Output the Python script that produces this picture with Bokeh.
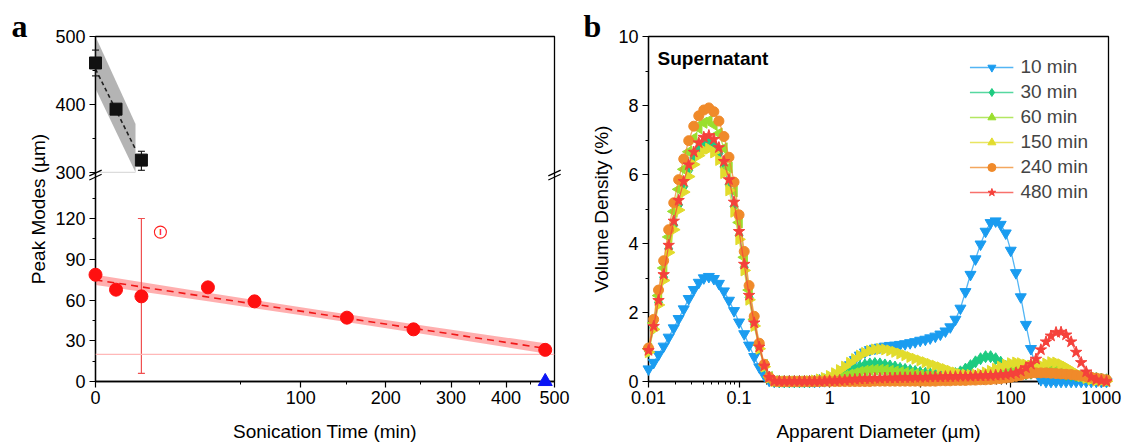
import math
from bokeh.plotting import figure
from bokeh.layouts import row
from bokeh.models import (Range1d, FixedTicker, CustomJSTickFormatter, Label, Span,
                          Legend, LegendItem)
from bokeh.core.properties import value
from bokeh.embed import file_html
from bokeh.resources import INLINE

SANS = "Liberation Sans"
SERIF = "Liberation Serif"

# ---------------- panel a data ----------------
time_red = [0, 1, 5, 30, 60, 150, 240, 480]
mode_red = [78.6, 67.6, 62.7, 69.3, 59.0, 47.0, 38.4, 23.3]
red_err_t = [5]
red_err_lo = [6]
red_err_hi = [120]
outlier_t = [10]
outlier_y = [110]
time_black = [0, 1, 5]
mode_black = [461, 393, 318]
black_err_lo = [442, 386, 303]
black_err_hi = [480, 400, 331]
blue_t = [480]
blue_y = [0]
red_fit_t = [0, 480]
red_fit_y = [74.8, 24.4]
red_band_t = [0, 30, 120, 270, 480]
red_band_lo = [71.0, 59.0, 46.8, 33.9, 20.6]
red_band_hi = [78.6, 65.4, 52.4, 40.1, 28.2]
black_fit_t = [0, 3.8]
black_fit_y = [452, 334]
black_band_lo = [423, 300]
black_band_hi = [500, 371]
threshold_low = [20]
threshold_up = [300]
a_x_ticks = [0, 100, 200, 300, 400, 500]
a_x_minor = [50, 150, 250, 350, 450]

# ---------------- panel b data ----------------
diam = [0.0100, 0.0114, 0.0129, 0.0147, 0.0167, 0.0190, 0.0215, 0.0245, 0.0278, 0.0316, 0.0359, 0.0408, 0.0464, 0.0527, 0.0599, 0.0681, 0.0774, 0.0880,
        0.100, 0.114, 0.129, 0.147, 0.167, 0.190, 0.215, 0.245, 0.278, 0.316, 0.359, 0.408, 0.464, 0.527, 0.599, 0.681, 0.774, 0.880,
        1.00, 1.14, 1.29, 1.47, 1.67, 1.90, 2.15, 2.45, 2.78, 3.16, 3.59, 4.08, 4.64, 5.27, 5.99, 6.81, 7.74, 8.80,
        10.0, 11.4, 12.9, 14.7, 16.7, 19.0, 21.5, 24.5, 27.8, 31.6, 35.9, 40.8, 46.4, 52.7, 59.9, 68.1, 77.4, 88.0,
        100, 114, 129, 147, 167, 190, 215, 245, 278, 316, 359, 408, 464, 527, 599, 681, 774, 880,
        1000, 1140]

blue_10 = [0.36, 0.55, 0.78, 1.02, 1.28, 1.55, 1.82, 2.10, 2.40, 2.66, 2.87, 3.00, 3.04, 2.98, 2.84, 2.62, 2.35, 2.05,
           1.72, 1.38, 1.05, 0.72, 0.42, 0.18, 0.03, 0, 0, 0, 0, 0, 0, 0, 0, 0, 0.01, 0.02,
           0.05, 0.10, 0.20, 0.33, 0.48, 0.63, 0.76, 0.85, 0.92, 0.96, 0.99, 1.02, 1.04, 1.05, 1.07, 1.09, 1.12, 1.15,
           1.19, 1.22, 1.26, 1.31, 1.37, 1.46, 1.58, 1.80, 2.12, 2.60, 3.10, 3.55, 3.98, 4.35, 4.60, 4.65, 4.55, 4.30,
           3.80, 3.15, 2.45, 1.65, 0.95, 0.35, 0.05, 0, 0, 0, 0, 0, 0, 0, 0, 0, 0, 0,
           0, 0]
teal_30 = [0.88, 1.56, 2.29, 3.02, 3.85, 4.53, 5.12, 5.65, 6.12, 6.48, 6.75, 6.90, 6.95, 6.84, 6.61, 6.22, 5.70, 5.07,
           4.24, 3.31, 2.44, 1.66, 0.98, 0.44, 0.12, 0.01, 0, 0, 0, 0, 0, 0, 0, 0.01, 0.03, 0.05,
           0.08, 0.12, 0.17, 0.23, 0.30, 0.37, 0.43, 0.48, 0.51, 0.52, 0.51, 0.48, 0.45, 0.42, 0.38, 0.35, 0.32, 0.29,
           0.26, 0.24, 0.22, 0.20, 0.19, 0.19, 0.20, 0.23, 0.28, 0.36, 0.46, 0.57, 0.66, 0.72, 0.72, 0.66, 0.56, 0.44,
           0.33, 0.26, 0.22, 0.22, 0.24, 0.28, 0.32, 0.35, 0.34, 0.30, 0.24, 0.20, 0.18, 0.16, 0.15, 0.13, 0.11, 0.09,
           0.07, 0.05]
lime_60 = [0.95, 1.70, 2.49, 3.29, 4.19, 4.93, 5.57, 6.15, 6.66, 7.05, 7.34, 7.50, 7.56, 7.44, 7.19, 6.76, 6.20, 5.51,
           4.61, 3.60, 2.65, 1.80, 1.06, 0.48, 0.13, 0.01, 0, 0, 0, 0, 0, 0, 0, 0.01, 0.02, 0.04,
           0.06, 0.09, 0.12, 0.16, 0.20, 0.24, 0.28, 0.31, 0.33, 0.34, 0.34, 0.33, 0.31, 0.29, 0.27, 0.25, 0.23, 0.21,
           0.19, 0.17, 0.15, 0.13, 0.12, 0.11, 0.10, 0.10, 0.11, 0.12, 0.14, 0.16, 0.18, 0.20, 0.22, 0.25, 0.28, 0.32,
           0.36, 0.40, 0.44, 0.46, 0.46, 0.44, 0.40, 0.36, 0.33, 0.32, 0.30, 0.26, 0.21, 0.16, 0.12, 0.08, 0.05, 0.03,
           0.02, 0.01]
yellow_150 = [0.85, 1.51, 2.22, 2.93, 3.74, 4.40, 4.97, 5.49, 5.94, 6.29, 6.55, 6.70, 6.75, 6.64, 6.42, 6.04, 5.54, 4.92,
              4.12, 3.22, 2.37, 1.61, 0.95, 0.43, 0.11, 0.01, 0, 0, 0, 0, 0, 0, 0.01, 0.03, 0.06, 0.10,
              0.16, 0.24, 0.33, 0.43, 0.54, 0.65, 0.75, 0.83, 0.89, 0.93, 0.94, 0.93, 0.90, 0.86, 0.81, 0.76, 0.71, 0.66,
              0.61, 0.56, 0.51, 0.46, 0.41, 0.36, 0.31, 0.26, 0.22, 0.20, 0.19, 0.20, 0.22, 0.26, 0.31, 0.37, 0.43, 0.49,
              0.53, 0.55, 0.53, 0.49, 0.45, 0.44, 0.47, 0.52, 0.56, 0.55, 0.50, 0.42, 0.33, 0.24, 0.16, 0.10, 0.06, 0.03,
              0.02, 0.01]
orange_240 = [0.97, 1.80, 2.65, 3.50, 4.40, 5.18, 5.85, 6.45, 6.98, 7.40, 7.70, 7.87, 7.93, 7.82, 7.55, 7.10, 6.50, 5.78,
              4.83, 3.77, 2.78, 1.89, 1.11, 0.50, 0.13, 0.01, 0, 0, 0, 0, 0, 0, 0, 0, 0, 0,
              0, 0, 0, 0, 0, 0, 0, 0, 0, 0.01, 0.01, 0.01, 0.01, 0.01, 0.01, 0.01, 0.01, 0.01,
              0.01, 0.01, 0.01, 0.01, 0.02, 0.02, 0.02, 0.03, 0.03, 0.03, 0.04, 0.04, 0.05, 0.05, 0.06, 0.07, 0.08, 0.10,
              0.12, 0.15, 0.18, 0.22, 0.24, 0.25, 0.25, 0.25, 0.24, 0.23, 0.22, 0.21, 0.20, 0.18, 0.16, 0.14, 0.12, 0.10,
              0.08, 0.05]
red_480 = [0.90, 1.60, 2.35, 3.10, 3.95, 4.65, 5.25, 5.80, 6.28, 6.65, 6.92, 7.08, 7.13, 7.02, 6.78, 6.38, 5.85, 5.20,
           4.35, 3.40, 2.50, 1.70, 1.00, 0.45, 0.12, 0.01, 0, 0, 0, 0, 0, 0, 0, 0, 0, 0.01,
           0.02, 0.02, 0.03, 0.04, 0.05, 0.06, 0.07, 0.08, 0.08, 0.09, 0.09, 0.10, 0.10, 0.10, 0.11, 0.11, 0.11, 0.12,
           0.12, 0.12, 0.13, 0.13, 0.13, 0.14, 0.14, 0.14, 0.15, 0.15, 0.15, 0.16, 0.16, 0.17, 0.17, 0.18, 0.19, 0.20,
           0.22, 0.25, 0.30, 0.40, 0.50, 0.65, 0.92, 1.15, 1.32, 1.42, 1.43, 1.35, 1.15, 0.85, 0.55, 0.28, 0.12, 0.05,
           0.02, 0.00]

series_labels = ["10 min", "30 min", "60 min", "150 min", "240 min", "480 min"]
series_values = [blue_10, teal_30, lime_60, yellow_150, orange_240, red_480]
series_colors = ["#1A9CF0", "#1DCB80", "#9ADF2E", "#E2DC2C", "#F08A2A", "#F5413B"]
series_markers = ["inverted_triangle", "diamond", "triangle", "triangle", "circle", "star"]
series_angles = [0, 0, math.pi / 2, -math.pi / 2, 0, 0]
series_sizes = [11, 12, 11, 11, 10, 12]

for s in series_values:
    assert len(s) == len(diam), len(s)


def style_axis(ax, tick_size="18px", title_size="19px"):
    ax.axis_line_color = "black"
    ax.axis_line_width = 1.3
    ax.major_tick_line_color = "black"
    ax.minor_tick_line_color = "black"
    ax.major_tick_line_width = 1.2
    ax.minor_tick_line_width = 1.0
    ax.major_tick_out = 6
    ax.major_tick_in = 0
    ax.minor_tick_out = 3
    ax.minor_tick_in = 0
    ax.major_label_text_font = SANS
    ax.major_label_text_font_size = tick_size
    ax.major_label_text_color = "black"
    ax.axis_label_text_font = SANS
    ax.axis_label_text_font_size = title_size
    ax.axis_label_text_font_style = "normal"
    ax.axis_label_text_color = "black"


def style_title(p, text, offset):
    p.title.text = text
    p.title.align = "left"
    p.title.offset = offset
    p.title.standoff = -14
    p.title.vertical_align = "bottom"
    p.title.text_font = SERIF
    p.title.text_font_style = "bold"
    p.title.text_font_size = "32px"
    p.title.text_color = "black"


# composite (broken) y coordinate for panel a
GAP_BASE = 154.0
UP_SCALE = 0.5


def up(v):
    return GAP_BASE + (v - 300) * UP_SCALE


def sq(t):
    return math.sqrt(t)


# ---------------- panel a ----------------
pa = figure(width=576, height=446, output_backend="svg", toolbar_location=None,
            x_range=Range1d(0, sq(500)), y_range=Range1d(0, up(500)),
            min_border_left=95, min_border_right=22, min_border_top=36, min_border_bottom=65)
pa.grid.visible = False
pa.outline_line_color = "black"
pa.outline_line_width = 1.3
style_title(pa, "a", -84)

pa.xaxis.ticker = FixedTicker(ticks=[sq(v) for v in a_x_ticks], minor_ticks=[sq(v) for v in a_x_minor])
pa.xaxis.formatter = CustomJSTickFormatter(code="return String(Math.round(tick*tick));")
pa.yaxis.ticker = FixedTicker(ticks=[0, 30, 60, 90, 120, up(300), up(400), up(500)],
                              minor_ticks=[15, 45, 75, 105, 135, up(350), up(450)])
pa.yaxis.formatter = CustomJSTickFormatter(
    code="return tick <= 150 ? String(Math.round(tick)) : String(Math.round(300 + (tick-154)*2));")
pa.xaxis.axis_label = "Sonication Time (min)"
pa.yaxis.axis_label = "Peak Modes (\u00b5m)"
style_axis(pa.xaxis[0])
style_axis(pa.yaxis[0])
pa.xaxis.axis_label_standoff = 14
pa.xaxis.major_label_standoff = 3
pa.yaxis.axis_label_standoff = 3
pa.yaxis.major_label_standoff = 4

# red fit band and threshold
pa.varea(x=[sq(t) for t in red_band_t], y1=red_band_lo, y2=red_band_hi,
         fill_color="#FF7A7A", fill_alpha=0.6)
pa.add_layout(Span(location=threshold_low[0], dimension="width", line_color="#FFB8B8", line_width=1.2))
pa.line(x=[sq(t) for t in red_fit_t], y=red_fit_y, line_color="#F01818", line_width=1.6, line_dash="7 5")
pa.segment(x0=[sq(t) for t in red_err_t], y0=red_err_lo, x1=[sq(t) for t in red_err_t], y1=red_err_hi,
           line_color="#F05050", line_width=1.2)
pa.scatter(x=[sq(t) for t in red_err_t] * 2, y=red_err_lo + red_err_hi, marker="dash", size=7,
           line_color="#F05050", line_width=1.2)
pa.scatter(x=[sq(t) for t in time_red], y=mode_red, marker="circle", size=13,
           fill_color="#FF1010", line_color="#FF1010", level="overlay")
pa.scatter(x=[sq(t) for t in outlier_t], y=outlier_y, marker="circle", size=12,
           fill_color=None, line_color="#FF2020", line_width=1.1)
pa.text(x=[sq(t) for t in outlier_t], y=outlier_y, text=["I"], text_align="center",
        text_baseline="middle", text_font=value(SANS), text_font_size="9px", text_font_style="bold",
        text_color="#FF2020")

# black (upper) series
pa.varea(x=[sq(t) for t in black_fit_t], y1=[up(v) for v in black_band_lo], y2=[up(v) for v in black_band_hi],
         fill_color="#8C8C8C", fill_alpha=0.65)
pa.line(x=[sq(t) for t in black_fit_t], y=[up(v) for v in threshold_up * 2], line_color="#DCDCDC", line_width=1.2)
pa.line(x=[sq(t) for t in black_fit_t], y=[up(v) for v in black_fit_y], line_color="#222222",
        line_width=1.6, line_dash="4 3")
pa.segment(x0=[sq(t) for t in time_black], y0=[up(v) for v in black_err_lo],
           x1=[sq(t) for t in time_black], y1=[up(v) for v in black_err_hi], line_color="#111111",
           line_width=1.1, level="overlay")
pa.scatter(x=[sq(t) for t in time_black] * 2, y=[up(v) for v in black_err_lo + black_err_hi], marker="dash",
           size=7, line_color="#111111", line_width=1.1, level="overlay")
pa.scatter(x=[sq(t) for t in time_black], y=[up(v) for v in mode_black], marker="square", size=12,
           fill_color="#111111", line_color="#111111", level="overlay")
pa.scatter(x=[sq(t) for t in blue_t], y=blue_y, marker="triangle", size=14,
           fill_color="#0A14F5", line_color="#0A14F5", level="overlay")

# axis break marks (two short parallel slashes on each vertical edge)
brk_mid = (150 + GAP_BASE) / 2
for bx in [0, sq(500)]:
    pa.segment(x0=[bx - 0.3, bx - 0.3], y0=[brk_mid - 3.6, brk_mid - 0.6],
               x1=[bx + 0.3, bx + 0.3], y1=[brk_mid + 0.6, brk_mid + 3.6],
               line_color="black", line_width=1.2, level="overlay")

# ---------------- panel b ----------------
pb = figure(width=548, height=446, output_backend="svg", toolbar_location=None,
            x_axis_type="log", x_range=Range1d(0.01, 1200), y_range=Range1d(0, 10),
            min_border_left=72, min_border_right=16, min_border_top=36, min_border_bottom=65)
pb.grid.visible = False
pb.outline_line_color = "black"
pb.outline_line_width = 1.3
style_title(pb, "b", -65)
pb.xaxis.ticker = FixedTicker(ticks=[0.01, 0.1, 1, 10, 100, 1000],
                              minor_ticks=[m * 10.0 ** k for k in range(-2, 4) for m in range(2, 10)
                                           if m * 10.0 ** k < 1200])
pb.xaxis.formatter = CustomJSTickFormatter(
    code="return tick < 1 ? String(parseFloat(tick.toPrecision(1))) : String(Math.round(tick));")
pb.yaxis.ticker = FixedTicker(ticks=[0, 2, 4, 6, 8, 10], minor_ticks=[1, 3, 5, 7, 9])
pb.xaxis.axis_label = "Apparent Diameter (\u00b5m)"
pb.yaxis.axis_label = "Volume Density (%)"
style_axis(pb.xaxis[0])
style_axis(pb.yaxis[0])
pb.xaxis.axis_label_standoff = 14
pb.xaxis.major_label_standoff = 3
pb.yaxis.axis_label_standoff = 3
pb.yaxis.major_label_standoff = 4

items = []
for lab, vals, col, mk, ang, sz in zip(series_labels, series_values, series_colors, series_markers,
                                       series_angles, series_sizes):
    lr = pb.line(x=diam, y=vals, line_color=col, line_width=1.3, line_alpha=0.75, level="overlay")
    sr = pb.scatter(x=diam, y=vals, marker=mk, angle=ang, size=sz, fill_color=col, line_color=col,
                    level="overlay")
    items.append(LegendItem(label=lab, renderers=[lr, sr]))

legend = Legend(items=items, location="top_right", label_text_font=SANS, label_text_font_size="19px",
                glyph_width=44, glyph_height=20, label_height=20, spacing=3, padding=5, margin=15,
                label_standoff=7, background_fill_alpha=0, border_line_alpha=0)
pb.add_layout(legend)

pb.add_layout(Label(x=0.0126, y=9.36, text="Supernatant", text_font=SANS, text_font_style="bold",
                    text_font_size="19px", text_baseline="alphabetic", text_color="black"))

layout = row(pa, pb)
open("out.html", "w").write(file_html(layout, INLINE))
